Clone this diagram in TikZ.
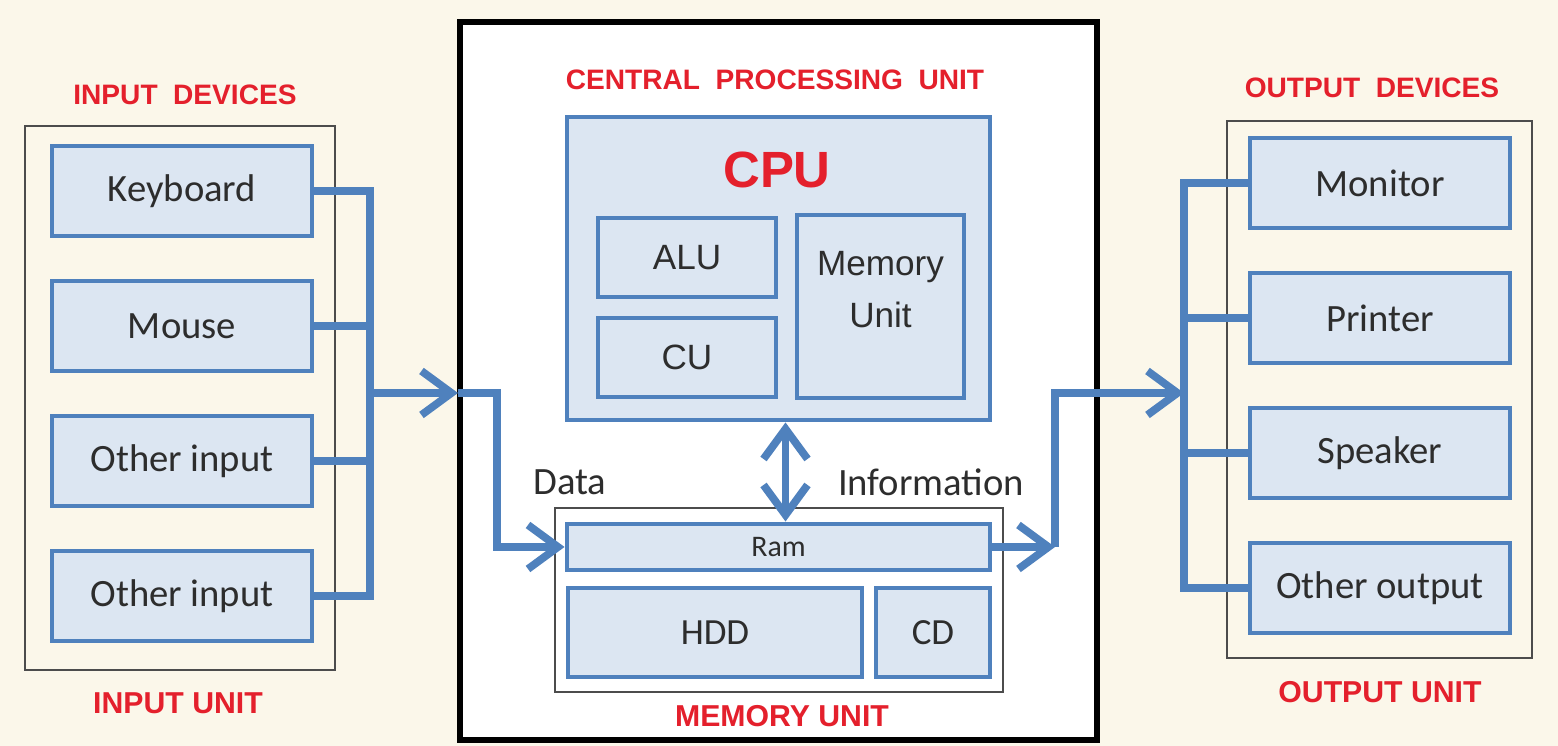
\documentclass[tikz,border=0pt]{standalone}
\usepackage{fontspec}
\setmainfont{Carlito}
\newfontfamily\arialfont{Liberation Sans}
\usepackage{tikz}
\usetikzlibrary{arrows, arrows.meta, positioning}
\definecolor{cream}{RGB}{251,247,234}
\definecolor{boxblue}{RGB}{79,129,189}
\definecolor{boxfill}{RGB}{220,230,242}
\definecolor{labelred}{RGB}{228,32,44}
\definecolor{textgray}{RGB}{45,45,45}
\newcommand{\widewords}{\spaceskip=0.55em plus 0.1em\relax}
\tikzstyle{device} = [rectangle, minimum width=2.6cm, minimum height=0.9cm, text centered, draw=boxblue, line width=1.4pt, fill=boxfill, text=textgray, font=\fontsize{11}{13}\selectfont]
\tikzstyle{part} = [device, minimum width=1.78cm, minimum height=0.79cm, font=\arialfont\fontsize{10}{12}\selectfont]
\tikzstyle{unit} = [rectangle, draw=black!70, line width=0.7pt]
\tikzstyle{title} = [text=labelred, font=\arialfont\bfseries\fontsize{8}{10}\selectfont\widewords]
\tikzstyle{unitlabel} = [text=labelred, font=\arialfont\bfseries\fontsize{8.6}{10}\selectfont]
\tikzstyle{plain} = [text=textgray, font=\fontsize{11}{13}\selectfont]
\tikzstyle{bus} = [draw=boxblue, line width=2.2pt]
\tikzstyle{arrow} = [bus, -{Straight Barb[length=3mm,width=4.4mm]}]
\tikzstyle{dblarrow} = [bus, {Straight Barb[length=3mm,width=4.4mm]}-{Straight Barb[length=3mm,width=4.4mm]}]

\begin{document}
\begin{tikzpicture}[node distance=1.35cm]

% Background
\fill[cream] (0,0) rectangle (15.58,7.46);

% Input unit
\node (inunit) [unit, minimum width=3.10cm, minimum height=5.44cm] at (1.80,3.48) {};
\node (intitle) [title] at (1.85,6.51) {INPUT DEVICES};
\node (inlabel) [unitlabel] at (1.78,0.43) {INPUT UNIT};
\node (keyboard) [device] at (1.82,5.55) {Keyboard};
\node (mouse) [device, below of=keyboard] {Mouse};
\node (otherin1) [device, below of=mouse] {Other input};
\node (otherin2) [device, below of=otherin1] {Other input};

% Central processing unit
\node (centre) [rectangle, draw=black, line width=1.6pt, fill=white, minimum width=6.37cm, minimum height=7.18cm] at (7.785,3.65) {};
\node (cputitle) [title] at (7.75,6.66) {CENTRAL PROCESSING UNIT};
\node (cpu) [device, minimum width=4.23cm, minimum height=3.03cm] at (7.785,4.775) {};
\node (cpulabel) [text=labelred, font=\arialfont\bfseries\fontsize{14.5}{17}\selectfont] at (7.77,5.76) {CPU};
\node (alu) [part] at (6.87,4.885) {ALU};
\node (cu) [part, below of=alu, node distance=1.0cm] {CU};
\node (memcpu) [part, minimum width=1.67cm, minimum height=1.83cm, label={[text=textgray, font=\arialfont\fontsize{10}{15}\selectfont, align=center, yshift=0.17cm]center:Memory\\Unit}] at (8.805,4.395) {};

% Memory unit
\node (memunit) [unit, minimum width=4.48cm, minimum height=1.84cm] at (7.79,1.46) {};
\node (ram) [device, minimum width=4.23cm, minimum height=0.46cm, font=\fontsize{8.5}{10}\selectfont] at (7.785,1.99) {Ram};
\node (hdd) [device, minimum width=2.94cm, minimum height=0.89cm, font=\fontsize{10.5}{12}\selectfont] at (7.15,1.135) {HDD};
\node (cd) [device, minimum width=1.14cm, minimum height=0.89cm, font=\fontsize{10.5}{12}\selectfont] at (9.33,1.135) {CD};
\node (memlabel) [unitlabel] at (7.82,0.30) {MEMORY UNIT};
\node (data) [plain] at (5.70,2.64) {Data};
\node (info) [plain] at (9.31,2.64) {Information};

% Output unit
\node (outunit) [unit, minimum width=3.05cm, minimum height=5.37cm] at (13.795,3.565) {};
\node (outtitle) [title] at (13.72,6.58) {OUTPUT DEVICES};
\node (outlabel) [unitlabel] at (13.80,0.54) {OUTPUT UNIT};
\node (monitor) [device] at (13.80,5.63) {Monitor};
\node (printer) [device, below of=monitor] {Printer};
\node (speaker) [device, below of=printer] {Speaker};
\node (otherout) [device, below of=speaker] {Other output};

% Arrows
\coordinate (inbus) at (3.70,3.53);
\coordinate (intip) at (4.58,3.53);
\coordinate (inbend) at (4.97,3.53);
\coordinate (outbend) at (10.55,3.53);
\coordinate (outbus) at (11.84,3.53);

\draw [bus] (keyboard.east) -| (inbus |- otherin2.east) -- (otherin2.east);
\draw [bus] (mouse.east) -- (mouse.east -| inbus);
\draw [bus] (otherin1.east) -- (otherin1.east -| inbus);
\draw [arrow] (inbus) -- (intip);
\draw [arrow] (intip) -- (inbend) |- (ram.west);

\draw [dblarrow] ([xshift=0.07cm]cpu.south) -- ([xshift=0.07cm]ram.north);

\draw [arrow] (ram.east) -- (ram.east -| outbend);
\draw [arrow] (ram.east -| outbend) |- (outbus);

\draw [bus] (monitor.west) -| (outbus |- otherout.west) -- (otherout.west);
\draw [bus] (printer.west) -- (printer.west -| outbus);
\draw [bus] (speaker.west) -- (speaker.west -| outbus);

\end{tikzpicture}
\end{document}
